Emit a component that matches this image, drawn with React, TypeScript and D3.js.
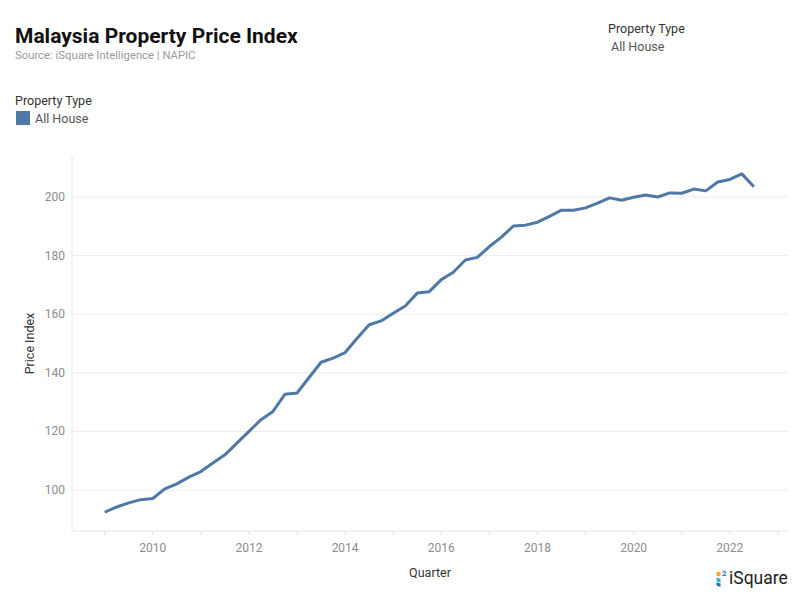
import React from "react";
import * as d3 from "d3";

const startYear = 2009;
const values: number[] = [
  92.4, 94.2, 95.6, 96.7, 97.1, 100.4, 102.1, 104.4, 106.3, 109.2,
  112.0, 116.0, 120.0, 124.0, 126.8, 132.7, 133.1, 138.4, 143.6, 145.0,
  146.9, 151.8, 156.4, 157.7, 160.3, 162.8, 167.2, 167.7, 171.8, 174.3,
  178.5, 179.4, 183.1, 186.3, 190.1, 190.4, 191.4, 193.4, 195.5, 195.5,
  196.3, 197.9, 199.7, 198.9, 199.9, 200.7, 200.0, 201.4, 201.3, 202.7,
  202.1, 205.1, 206.0, 207.9, 203.5,
];
const yTicks: number[] = [100, 120, 140, 160, 180, 200];
const xLabelYears: number[] = [2010, 2012, 2014, 2016, 2018, 2020, 2022];
const xTickYears: number[] = d3.range(2009, 2024);

const data = values.map((v, i) => ({ t: startYear + i / 4, v }));

const W = 799;
const H = 599;
const L = 72, R = 788, T = 156, B = 531;
const FONT = "Roboto, 'Noto Sans', sans-serif";

export default function App() {
  const x = d3.scaleLinear().domain([2008.32, 2023.21]).range([L, R]);
  const y = d3.scaleLinear().domain([86, 214]).range([B, T]);
  const line = d3
    .line<{ t: number; v: number }>()
    .x((d) => x(d.t))
    .y((d) => y(d.v));

  return (
    <svg
      width={W}
      height={H}
      style={{ position: "absolute", left: 0, top: 0, background: "#fff" }}
      fontFamily={FONT}
    >
      <text x={15} y={43} fontSize={21} fontWeight={700} fill="#111">
        Malaysia Property Price Index
      </text>
      <text x={15} y={59} fontSize={11.3} fill="#9a9a9a">
        Source: iSquare Intelligence | NAPIC
      </text>

      <text x={15} y={105} fontSize={12.5} fill="#333">
        Property Type
      </text>
      <rect x={16} y={111} width={14} height={14} fill="#4e79a7" />
      <text x={35} y={123} fontSize={12.5} fill="#555">
        All House
      </text>

      <text x={608} y={33} fontSize={12.5} fill="#333">
        Property Type
      </text>
      <text x={611} y={51} fontSize={12.5} fill="#555">
        All House
      </text>

      {yTicks.map((t) => (
        <g key={t}>
          <line x1={L} x2={R} y1={y(t)} y2={y(t)} stroke="#ececec" strokeWidth={1} />
          <text x={65} y={y(t) + 4} fontSize={12} fill="#8c8c8c" textAnchor="end">
            {t}
          </text>
        </g>
      ))}
      <line x1={L} x2={L} y1={T} y2={B} stroke="#e6e6e6" />
      <line x1={L} x2={R} y1={B} y2={B} stroke="#e6e6e6" />
      {xTickYears.map((yr) => (
        <line key={yr} x1={x(yr)} x2={x(yr)} y1={B} y2={B + 4} stroke="#e0e0e0" />
      ))}
      {xLabelYears.map((yr) => (
        <text key={yr} x={x(yr)} y={552} fontSize={12} fill="#8c8c8c" textAnchor="middle">
          {yr}
        </text>
      ))}

      <text x={430} y={577} fontSize={12.5} fill="#333" textAnchor="middle">
        Quarter
      </text>
      <text
        transform={`translate(34,${(T + B) / 2}) rotate(-90)`}
        fontSize={12.5}
        fill="#333"
        textAnchor="middle"
      >
        Price Index
      </text>

      <path d={line(data) || ""} fill="none" stroke="#4e79a7" strokeWidth={3} strokeLinejoin="round" />

      <g>
        <circle cx={718.5} cy={574} r={2.3} fill="#f5a623" />
        <path d="M716.5,577.5 L720.5,579 L720.5,582.5 L716.5,581 Z" fill="#2bb3a3" />
        <path d="M716.5,582 L720.5,583.5 L720.5,587 L716.5,585.5 Z" fill="#1f6fc5" />
        <text x={722} y={576} fontSize={8} fill="#1f6fc5" fontWeight={700}>2</text>
        <text x={729} y={584} fontSize={17.5} fill="#222">iSquare</text>
      </g>
    </svg>
  );
}
